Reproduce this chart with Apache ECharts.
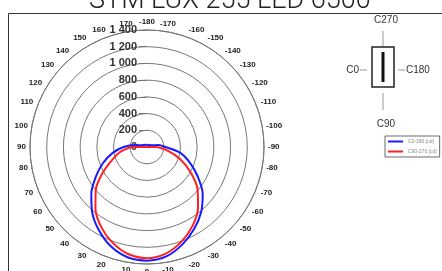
<!DOCTYPE html>
<html>
<head>
<meta charset="utf-8">
<script src="https://cdn.jsdelivr.net/npm/echarts@6/dist/echarts.min.js"></script>
<style>
  html, body { margin: 0; padding: 0; background: #fff; }
  #photometry { width: 442px; height: 271px; }
</style>
</head>
<body>
<div id="photometry"></div>
<script>
// gamma angles, -180 (top) .. 0 (bottom) .. 180
const gammaAngles = [-180, -170, -160, -150, -140, -130, -120, -110, -100, -90,
    -80, -70, -60, -50, -40, -30, -20, -10, 0, 10, 20, 30, 40, 50, 60, 70, 80,
    90, 100, 110, 120, 130, 140, 150, 160, 170, 180];
// C0-180 plane intensities [cd]
const c0180 = [25, 25, 28, 30, 32, 38, 45, 60, 140, 220,
    405, 545, 700, 870, 1010, 1130, 1240, 1330, 1360, 1340, 1265, 1150, 1020, 870, 705, 560, 420,
    280, 130, 65, 48, 40, 32, 30, 28, 25, 25];
// C90-270 plane intensities [cd]
const c90270 = [0, 0, 0, 0, 0, 0, 0, 0, 0, 100,
    250, 420, 600, 790, 950, 1090, 1205, 1295, 1330, 1300, 1215, 1100, 960, 800, 610, 440, 320,
    160, 0, 0, 0, 0, 0, 0, 0, 0, 0];
const radiusTicks = { min: 0, max: 1400, step: 200 };
const seriesNames = ['C0-180 [cd]', 'C90-270 [cd]'];

const chart = echarts.init(document.getElementById('photometry'), null, { renderer: 'canvas' });

const toPolar = (vals) => vals.map((v, i) => [v, gammaAngles[i]]);
const thousands = (v) => v >= 1000 ? String(v).replace(/(\d)(\d{3})$/, '$1 $2') : String(v);

const grey = '#777';

const option = {
    backgroundColor: '#fff',
    animation: false,
    title: {
        text: 'STM LUX 255 LED 6500',
        left: 84,
        top: -17,
        textStyle: { fontFamily: 'Roboto', fontWeight: 300, fontSize: 27, color: '#222' }
    },
    legend: {
        data: seriesNames,
        orient: 'vertical',
        left: 385,
        top: 136,
        icon: 'rect',
        itemWidth: 15,
        itemHeight: 2,
        itemGap: 5,
        padding: [3, 3, 3, 3],
        borderColor: '#444',
        borderWidth: 0.8,
        textStyle: { fontSize: 5, color: '#888', fontFamily: 'Liberation Sans' }
    },
    polar: {
        center: [147, 147],
        radius: 117
    },
    angleAxis: {
        type: 'value',
        min: -180,
        max: 180,
        interval: 10,
        startAngle: 90,
        clockwise: true,
        axisLine: { lineStyle: { color: grey, width: 1 } },
        axisTick: { show: false },
        splitLine: { show: false },
        axisLabel: {
            margin: 4,
            fontSize: 8,
            fontWeight: 'bold',
            color: '#222',
            fontFamily: 'Liberation Sans'
        }
    },
    radiusAxis: {
        min: radiusTicks.min,
        max: radiusTicks.max,
        interval: radiusTicks.step,
        axisLine: { show: false },
        axisTick: { show: true, length: 8, lineStyle: { color: grey } },
        splitLine: { lineStyle: { color: grey, width: 1 } },
        axisLabel: {
            margin: 10,
            fontSize: 11,
            fontWeight: 'bold',
            color: '#333',
            fontFamily: 'Liberation Sans',
            formatter: thousands
        }
    },
    series: [
        {
            name: seriesNames[0],
            type: 'line',
            coordinateSystem: 'polar',
            data: toPolar(c0180),
            showSymbol: false,
            smooth: 0.3,
            color: '#1a1aff',
            lineStyle: { width: 2 },
            z: 3
        },
        {
            name: seriesNames[1],
            type: 'line',
            coordinateSystem: 'polar',
            data: toPolar(c90270),
            showSymbol: false,
            smooth: 0.3,
            color: '#ff2020',
            lineStyle: { width: 2 },
            z: 4
        }
    ],
    graphic: [
        // chart frame
        { type: 'rect', silent: true, z: -10, shape: { x: 8.5, y: 13.5, width: 450, height: 280 },
          style: { fill: null, stroke: '#333', lineWidth: 1 } },
        // C-plane sketch
        { type: 'line', silent: true, shape: { x1: 383, y1: 31, x2: 383, y2: 46 }, style: { stroke: '#999', lineWidth: 1 } },
        { type: 'line', silent: true, shape: { x1: 383, y1: 93, x2: 383, y2: 110 }, style: { stroke: '#999', lineWidth: 1 } },
        { type: 'line', silent: true, shape: { x1: 360, y1: 70, x2: 367, y2: 70 }, style: { stroke: '#999', lineWidth: 1 } },
        { type: 'line', silent: true, shape: { x1: 398, y1: 70, x2: 405, y2: 70 }, style: { stroke: '#999', lineWidth: 1 } },
        { type: 'rect', silent: true, shape: { x: 372, y: 47, width: 22, height: 40 },
          style: { fill: '#fff', stroke: '#222', lineWidth: 1.5 } },
        { type: 'rect', silent: true, shape: { x: 381.5, y: 52, width: 3, height: 30 }, style: { fill: '#111' } },
        { type: 'text', silent: true, style: { text: 'C270', x: 386, y: 20, align: 'center', verticalAlign: 'middle',
          fontSize: 10, fontFamily: 'Liberation Sans', fill: '#333' } },
        { type: 'text', silent: true, style: { text: 'C90', x: 386, y: 124, align: 'center', verticalAlign: 'middle',
          fontSize: 10, fontFamily: 'Liberation Sans', fill: '#333' } },
        { type: 'text', silent: true, style: { text: 'C0', x: 359, y: 70, align: 'right', verticalAlign: 'middle',
          fontSize: 10, fontFamily: 'Liberation Sans', fill: '#333' } },
        { type: 'text', silent: true, style: { text: 'C180', x: 406, y: 70, align: 'left', verticalAlign: 'middle',
          fontSize: 10, fontFamily: 'Liberation Sans', fill: '#333' } }
    ]
};

chart.setOption(option);
window.addEventListener('resize', function () {
    chart.resize();
});
</script>
</body>
</html>
